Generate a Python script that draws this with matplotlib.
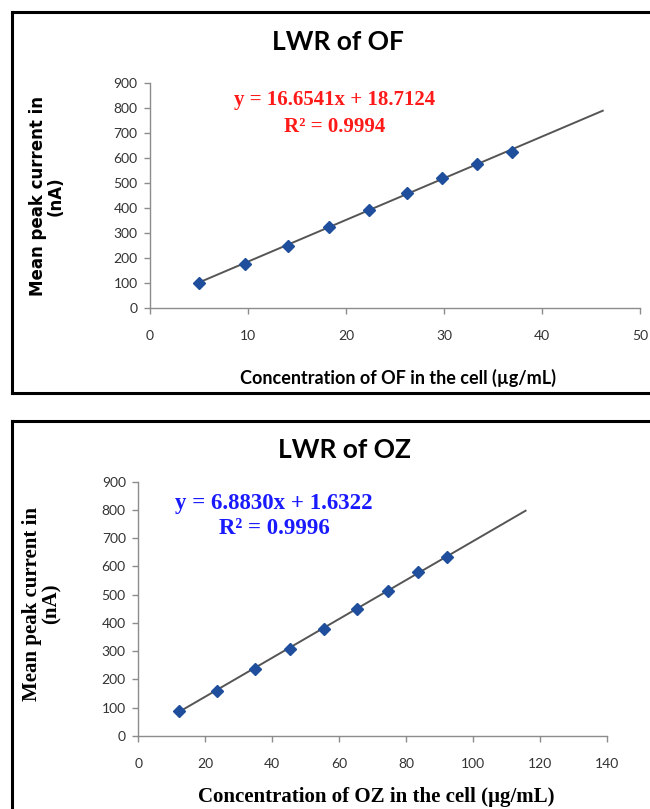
import matplotlib
matplotlib.use("Agg")
import matplotlib.pyplot as plt
from matplotlib.lines import Line2D
import numpy as np

# ---- data ----
of_conc = [5.0, 9.7, 14.1, 18.3, 22.3, 26.2, 29.8, 33.4, 36.9]
of_current = [100, 174, 248, 323, 391, 459, 520, 576, 624]
of_slope, of_intercept = 16.6541, 18.7124
of_r2 = "0.9994"
of_trend_end = 46.2

oz_conc = [12.0, 23.6, 34.7, 45.4, 55.5, 65.3, 74.4, 83.4, 92.0]
oz_current = [90, 160, 237, 308, 379, 448, 514, 579, 635]
oz_slope, oz_intercept = 6.8830, 1.6322
oz_r2 = "0.9996"
oz_trend_end = 115.6

y_ticks = [0, 100, 200, 300, 400, 500, 600, 700, 800, 900]
of_x_ticks = [0, 10, 20, 30, 40, 50]
oz_x_ticks = [0, 20, 40, 60, 80, 100, 120, 140]

W, H = 650, 809
fig = plt.figure(figsize=(W / 100, H / 100), dpi=100)

def fx(px):
    return px / W

def fy(py):
    return 1 - py / H

# panel frames
frame_kw = dict(color="black", lw=2.2, transform=fig.transFigure, solid_capstyle="projecting")
fig.add_artist(Line2D([fx(12), 1.01], [fy(12), fy(12)], **frame_kw))
fig.add_artist(Line2D([fx(12), fx(12)], [fy(12), fy(392.5)], **frame_kw))
fig.add_artist(Line2D([fx(12), 1.01], [fy(392.5), fy(392.5)], **frame_kw))
fig.add_artist(Line2D([fx(12), 1.01], [fy(421), fy(421)], **frame_kw))
fig.add_artist(Line2D([fx(12), fx(12)], [fy(421), -0.01], **frame_kw))

spine_col = "#8c8c8c"
tick_col = "#333333"
marker_col = "#1F4E9C"
line_col = "#555555"


def style_axes(ax, xticks, xmax, tickfont):
    ax.set_xlim(0, xmax)
    ax.set_ylim(0, 900)
    ax.set_xticks(xticks)
    ax.set_yticks(y_ticks)
    for s in ["top", "right"]:
        ax.spines[s].set_visible(False)
    for s in ["left", "bottom"]:
        ax.spines[s].set_color(spine_col)
        ax.spines[s].set_linewidth(1.0)
    ax.tick_params(axis="both", direction="out", length=4, width=1.0, color=spine_col,
                   labelcolor=tick_col, labelsize=10)
    ax.tick_params(axis="x", pad=12)
    ax.tick_params(axis="y", pad=5)
    for lab in ax.get_xticklabels() + ax.get_yticklabels():
        lab.set_fontfamily(tickfont)


# ---- top panel: OF ----
ax1 = fig.add_axes([fx(150), fy(308), fx(640) - fx(150), fy(82.7) - fy(308)])
style_axes(ax1, of_x_ticks, 50, "Lato")
tx = np.array([of_conc[0], of_trend_end])
ax1.plot(tx, of_slope * tx + of_intercept, color=line_col, lw=1.4, zorder=2)
ax1.plot(of_conc, of_current, "D", color=marker_col, ms=6.3, zorder=3, clip_on=False)

fig.text(fx(338), fy(42), "LWR of OF", ha="center", va="center", fontsize=19,
         fontweight="bold", family="Lato")
fig.text(fx(335), fy(100), f"y = {of_slope:.4f}x + {of_intercept:.4f}", ha="center",
         va="center", fontsize=15, fontweight="bold", family="Liberation Serif", color="#FF1A1A")
fig.text(fx(335), fy(127), f"R² = {of_r2}", ha="center", va="center", fontsize=15,
         fontweight="bold", family="Liberation Serif", color="#FF1A1A")
fig.text(fx(47), fy(196), "Mean peak current in\n(nA)", ha="center", va="center",
         rotation=90, fontsize=12, fontweight="bold", family="DejaVu Sans",
         linespacing=1.0)
fig.text(fx(398), fy(378), "Concentration of OF in the cell (µg/mL)", ha="center",
         va="center", fontsize=13, fontweight="bold", family="Lato")

# ---- bottom panel: OZ ----
ax2 = fig.add_axes([fx(138.3), fy(736), fx(607.3) - fx(138.3), fy(481.7) - fy(736)])
style_axes(ax2, oz_x_ticks, 140, "Lato")
tx = np.array([oz_conc[0], oz_trend_end])
ax2.plot(tx, oz_slope * tx + oz_intercept, color=line_col, lw=1.4, zorder=2)
ax2.plot(oz_conc, oz_current, "D", color=marker_col, ms=6.3, zorder=3, clip_on=False)

fig.text(fx(345), fy(450), "LWR of OZ", ha="center", va="center", fontsize=19,
         fontweight="bold", family="Lato")
fig.text(fx(274), fy(503), f"y = {oz_slope:.4f}x + {oz_intercept:.4f}", ha="center",
         va="center", fontsize=16.5, fontweight="bold", family="Liberation Serif", color="#1A1AFF")
fig.text(fx(274), fy(528), f"R² = {oz_r2}", ha="center", va="center", fontsize=16.5,
         fontweight="bold", family="Liberation Serif", color="#1A1AFF")
fig.text(fx(42), fy(604), "Mean peak current in\n(nA)", ha="center", va="center",
         rotation=90, fontsize=15, fontweight="bold", family="Liberation Serif",
         linespacing=1.0)
fig.text(fx(376), fy(797), "Concentration of OZ in the cell (µg/mL)", ha="center",
         va="center", fontsize=15, fontweight="bold", family="Liberation Serif")

fig.savefig("out.png", dpi=100)
